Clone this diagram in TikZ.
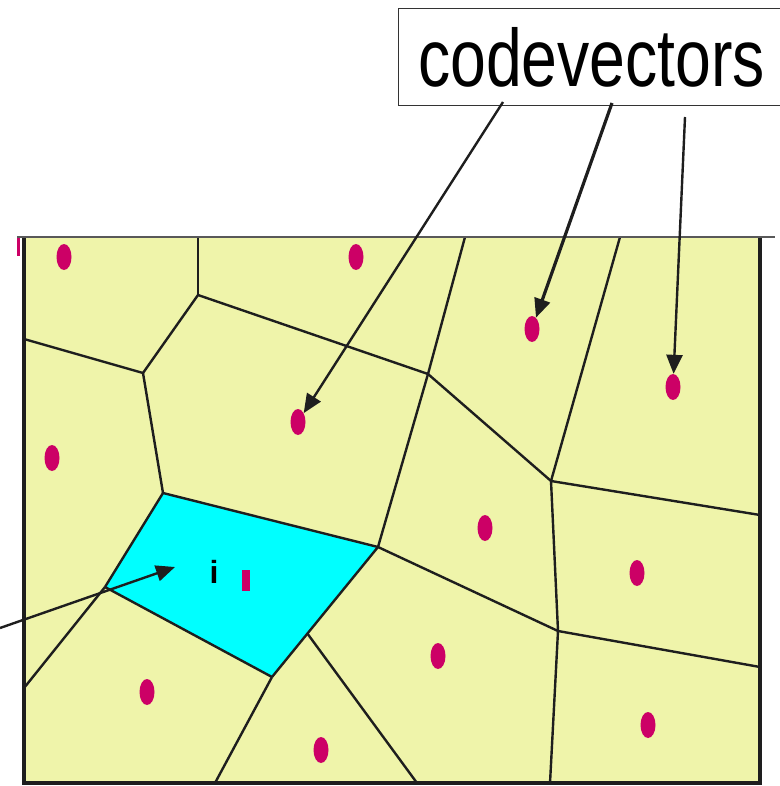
\documentclass[tikz,border=0pt]{standalone}
\usepackage{fontspec}
\setmainfont{Liberation Sans}
\usetikzlibrary{arrows.meta,shapes.geometric}
\definecolor{cellyellow}{RGB}{239,244,170}
\definecolor{cellcyan}{RGB}{0,255,255}
\definecolor{dotmag}{RGB}{204,0,102}
\definecolor{edgeblack}{RGB}{30,30,30}
\begin{document}
\begin{tikzpicture}[x=1pt,y=-1pt,
  dot/.style={ellipse,fill=dotmag,inner sep=0pt,minimum width=15pt,minimum height=26pt},
  edge/.style={draw=edgeblack,line width=2.4pt},
  pointer/.style={draw=edgeblack,line width=2.4pt,-{Triangle[length=19pt,width=16pt]}},
  labelbox/.style={draw=black!80,line width=1.3pt,rectangle,anchor=north west,minimum width=386pt,minimum height=97pt,inner sep=0pt}]
\useasboundingbox (0,0) rectangle (779,786);
% region
\fill[cellyellow] (24,237) rectangle (760,783);
% Voronoi vertices
\coordinate (top1) at (198,237);
\coordinate (top2) at (465,237);
\coordinate (top3) at (620,237);
\coordinate (L1) at (24,339);
\coordinate (L2) at (24,688);
\coordinate (R1) at (760,515);
\coordinate (R2) at (760,667);
\coordinate (B2) at (215,783);
\coordinate (B3) at (417,783);
\coordinate (B4) at (550,783);
\coordinate (V1) at (198,295);
\coordinate (V2) at (143,373);
\coordinate (V3) at (163,493);
\coordinate (V4) at (428,374);
\coordinate (V5) at (378,547);
\coordinate (V6) at (551,481);
\coordinate (V7) at (558,631);
\coordinate (V8) at (307,633);
\coordinate (V9) at (272,677);
\coordinate (V10) at (105,587);
% selected cell
\fill[cellcyan] (V3) -- (V5) -- (V9) -- (V10) -- cycle;
% cell edges
\draw[edge] (top1) -- (V1);
\draw[edge] (V1) -- (V2);
\draw[edge] (L1) -- (V2);
\draw[edge] (V2) -- (V3);
\draw[edge] (V1) -- (V4);
\draw[edge] (top2) -- (V4);
\draw[edge] (V4) -- (V5);
\draw[edge] (V4) -- (V6);
\draw[edge] (top3) -- (V6);
\draw[edge] (V6) -- (R1);
\draw[edge] (V6) -- (V7);
\draw[edge] (V7) -- (B4);
\draw[edge] (V7) -- (R2);
\draw[edge] (V5) -- (V7);
\draw[edge] (V3) -- (V5);
\draw[edge] (V5) -- (V9);
\draw[edge] (V8) -- (B3);
\draw[edge] (V9) -- (B2);
\draw[edge] (V9) -- (V10);
\draw[edge] (V10) -- (V3);
\draw[edge] (V10) -- (L2);
% frame
\draw[edgeblack,line width=3.5pt] (24,237) -- (24,783) -- (760,783) -- (760,237);
\draw[black!65,line width=1.6pt] (17,237) -- (775,237);
\fill[dotmag] (17,238) rectangle (20,256);
% codevectors
\node[dot] (d1) at (64,257) {};
\node[dot] (d2) at (356,257) {};
\node[dot] (d3) at (532,329) {};
\node[dot] (d4) at (673,387) {};
\node[dot] (d5) at (298,422) {};
\node[dot] (d6) at (52,458) {};
\node[dot] (d7) at (485,528) {};
\node[dot] (d8) at (637,573) {};
\node[fill=dotmag,inner sep=0pt,minimum width=8pt,minimum height=21pt] (d9) at (246,580) {};
\node[dot] (d10) at (147,692) {};
\node[dot] (d11) at (438,656) {};
\node[dot] (d12) at (321,750) {};
\node[dot] (d13) at (648,725) {};
% label of cell
\node[font=\fontsize{32}{36}\selectfont\bfseries,inner sep=0pt] (ilab) at (214,572) {i};
% label box
\node[labelbox] (box) at (398,8) {\scalebox{0.79}[1]{\fontsize{81.5}{90}\selectfont codevectors}};
% pointers
\coordinate (s1) at (503,102);
\coordinate (s2) at (612,103);
\coordinate (s3) at (685,117);
\coordinate (s4) at (0,628);
\coordinate (t4) at (175,567);
\draw[pointer] (s1) -- (d5);
\draw[pointer,line width=3.2pt] (s2) -- (d3);
\draw[pointer] (s3) -- (d4);
\draw[pointer] (s4) -- (t4);
\end{tikzpicture}
\end{document}
